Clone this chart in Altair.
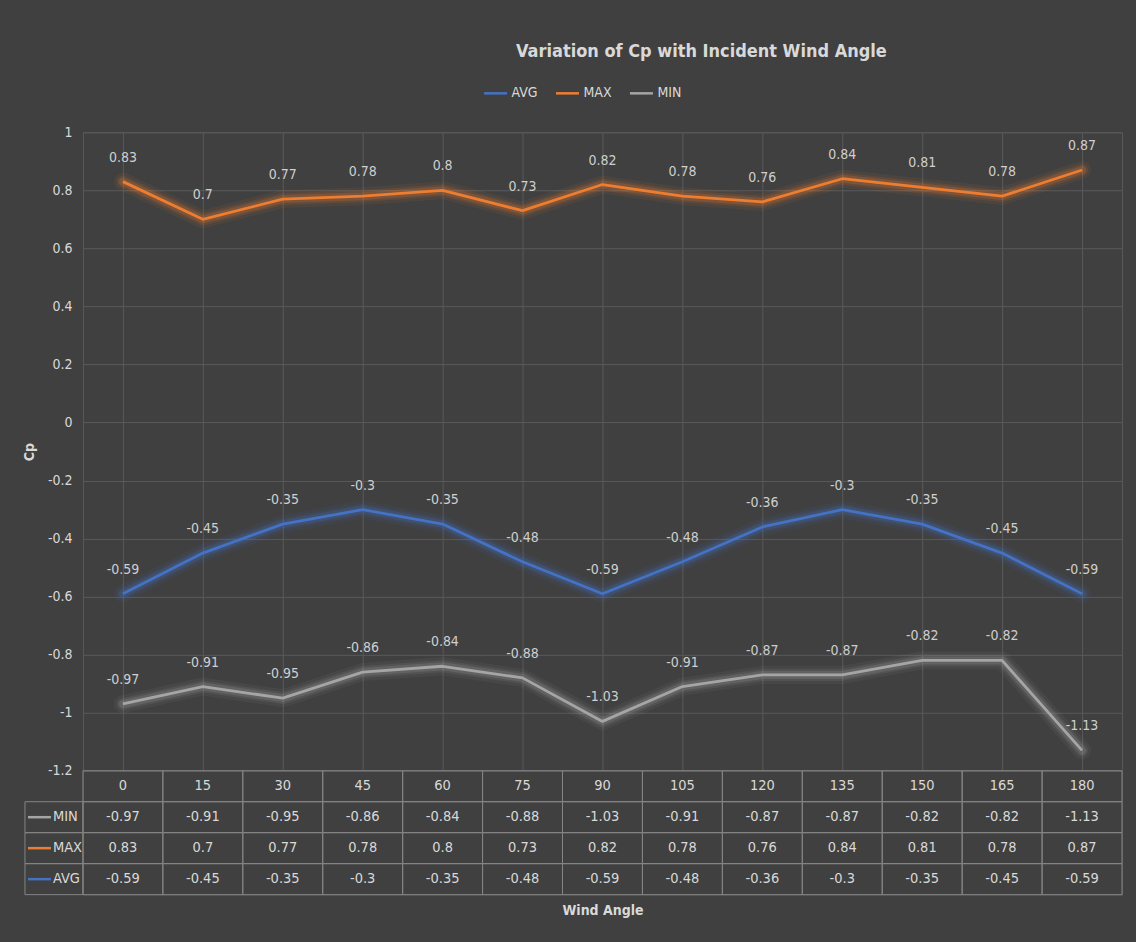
import altair as alt
import pandas as pd

# Incident wind angle (degrees) and pressure coefficient statistics
angles = [0, 15, 30, 45, 60, 75, 90, 105, 120, 135, 150, 165, 180]
cp_min = [-0.97, -0.91, -0.95, -0.86, -0.84, -0.88, -1.03, -0.91, -0.87, -0.87, -0.82, -0.82, -1.13]
cp_max = [0.83, 0.7, 0.77, 0.78, 0.8, 0.73, 0.82, 0.78, 0.76, 0.84, 0.81, 0.78, 0.87]
cp_avg = [-0.59, -0.45, -0.35, -0.3, -0.35, -0.48, -0.59, -0.48, -0.36, -0.3, -0.35, -0.45, -0.59]

series_names = ["AVG", "MAX", "MIN"]
series_colors = ["#4472C4", "#ED7D31", "#A5A5A5"]
table_rows = ["MIN", "MAX", "AVG"]
y_ticks = [-1.2, -1.0, -0.8, -0.6, -0.4, -0.2, 0.0, 0.2, 0.4, 0.6, 0.8, 1.0]

BG = "#404040"
TEXT = "#D9D9D9"
GRID = "#595959"
TABLE_LINE = "#858585"
FONT = "DejaVu Sans Condensed, Roboto, sans-serif"

series_values = {"MIN": cp_min, "MAX": cp_max, "AVG": cp_avg}

points = pd.DataFrame(
    [
        {"series": name, "angle": a, "cp": v}
        for name in series_names
        for a, v in zip(angles, series_values[name])
    ]
)

# Data table below the plot: a header row of angles, then one row per series
table_cells = pd.DataFrame(
    [{"row": "angle", "angle": a, "text": str(a)} for a in angles]
    + [
        {"row": name, "angle": a, "text": str(v)}
        for name in table_rows
        for a, v in zip(angles, series_values[name])
    ]
)
table_keys = pd.DataFrame({"row": table_rows, "series": table_rows})

row_domain = ["angle"] + table_rows
color_scale = alt.Scale(domain=series_names, range=series_colors)
x_scale = alt.Scale(domain=angles, paddingInner=0, paddingOuter=0)

legend = alt.Legend(
    orient="none",
    direction="horizontal",
    legendX=400,
    legendY=-52,
    title=None,
    symbolType="stroke",
    symbolStrokeWidth=2.5,
    symbolSize=529,
    symbolOpacity=1,
    labelFontSize=14,
    labelColor=TEXT,
    labelFont=FONT,
    labelOffset=3,
    columnPadding=12,
)

x_top = alt.X(
    "angle:O",
    scale=x_scale,
    axis=alt.Axis(
        title=None, labels=False, ticks=False, domain=False,
        grid=True, bandPosition=0, gridColor=GRID,
    ),
)
y_top = alt.Y(
    "cp:Q",
    scale=alt.Scale(domain=[-1.2, 1.0], nice=False, zero=False),
    axis=alt.Axis(
        values=y_ticks,
        labelExpr="'' + datum.value",
        labelFont=FONT, labelFontSize=14, labelColor=TEXT, labelPadding=11,
        ticks=False, domain=False, grid=True, gridColor=GRID,
        title="Cp", titleFont=FONT, titleFontSize=14, titleColor=TEXT,
        titleFontWeight="bold", titleX=-53, titleY=319.5,
        titleAlign="center", titleBaseline="middle", titleAngle=-90,
    ),
)
color_enc = alt.Color("series:N", scale=color_scale, legend=legend)

base = alt.Chart(points).encode(x=x_top, y=y_top, color=color_enc)

# Soft glow under each line
glow = [
    base.mark_line(strokeWidth=w, opacity=o, strokeCap="round", strokeJoin="round")
    for w, o in [(18, 0.07), (12, 0.12), (8, 0.2)]
]
lines = base.mark_line(strokeWidth=2.8, strokeJoin="round")
labels = (
    alt.Chart(points)
    .transform_calculate(label="'' + datum.cp")
    .mark_text(font=FONT, fontSize=14, color="#CFCFCF", dy=-24, baseline="middle")
    .encode(x=x_top, y=y_top, text="label:N")
)

plot = alt.layer(*glow, lines, labels).properties(width=1040, height=639)

# Data table
x_tab = alt.X(
    "angle:O",
    scale=x_scale,
    axis=alt.Axis(
        title="Wind Angle", labels=False, ticks=False, domain=False, grid=False,
        titleFont=FONT, titleFontSize=14, titleFontWeight="bold",
        titleColor=TEXT, titlePadding=9,
    ),
)
y_tab = alt.Y("row:N", scale=alt.Scale(domain=row_domain, paddingInner=0, paddingOuter=0), axis=None)

cells = alt.Chart(table_cells).mark_rect(
    fillOpacity=0, stroke=TABLE_LINE, strokeWidth=1
).encode(x=x_tab, y=y_tab)
cell_text = alt.Chart(table_cells).mark_text(
    font=FONT, fontSize=14.5, color=TEXT, baseline="middle"
).encode(x=x_tab, y=y_tab, text="text:N")

key_cells = alt.Chart(table_keys).mark_rect(
    fillOpacity=0, stroke=TABLE_LINE, strokeWidth=1
).encode(x=alt.value(-58), x2=alt.value(0), y=y_tab)
key_lines = alt.Chart(table_keys).mark_rule(strokeWidth=2.5).encode(
    x=alt.value(-55), x2=alt.value(-32), y=y_tab,
    color=alt.Color("series:N", scale=color_scale, legend=None),
)
key_text = alt.Chart(table_keys).mark_text(
    font=FONT, fontSize=14.5, color=TEXT, align="left", baseline="middle"
).encode(x=alt.value(-30), y=y_tab, text="series:N")

table = alt.layer(cells, cell_text, key_cells, key_lines, key_text).properties(
    width=1040, height=124
)

chart = (
    alt.vconcat(plot, table, spacing=0, bounds="flush")
    .resolve_scale(color="shared")
    .resolve_legend(color="independent")
    .properties(
        title=alt.TitleParams(
            "Variation of Cp with Incident Wind Angle",
            anchor="start", dx=494, font=FONT, fontSize=18,
            fontWeight="bold", color=TEXT, offset=19,
        ),
        background=BG,
        padding={"left": 22, "top": 42, "right": 13, "bottom": 23},
    )
    .configure_view(stroke=GRID)
    .configure_concat(spacing=0)
)

chart.save("out.html", embed_options={"renderer": "svg", "actions": False})
